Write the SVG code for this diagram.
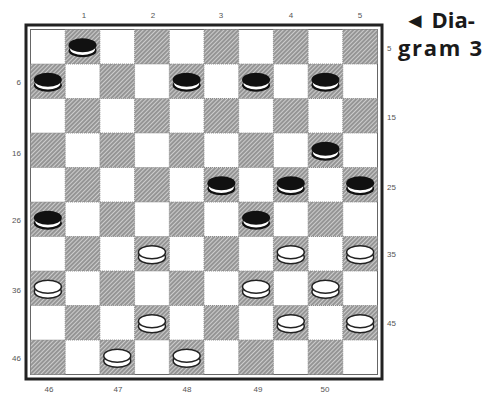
<svg xmlns="http://www.w3.org/2000/svg" xmlns:xlink="http://www.w3.org/1999/xlink" width="489" height="393" viewBox="0 0 489 393">
<style>
.d{fill:url(#hatch);stroke:#8a8a8a;stroke-width:1;stroke-dasharray:1 1}
.lbl{font-family:"Liberation Sans",Arial,sans-serif;font-size:8px;fill:#555}
.cap{font-family:"Open Sans","Liberation Sans",sans-serif;font-weight:bold;font-size:22px;fill:#1a1a1a}
</style>
<defs>
<pattern id="hatch" patternUnits="userSpaceOnUse" width="3" height="3" patternTransform="rotate(45)">
<rect width="3" height="3" fill="#cdcdcd"/>
<line x1="1" y1="0" x2="1" y2="3" stroke="#777" stroke-width="1.3"/>
</pattern>
<g id="bp">
<ellipse cx="0" cy="4" rx="14" ry="6.5" fill="#111"/>
<ellipse cx="0" cy="2.3" rx="12.5" ry="6" fill="#fff"/>
<ellipse cx="0" cy="-1.5" rx="14" ry="7" fill="#111"/>
</g>
<g id="wp">
<ellipse cx="0" cy="3.5" rx="13.5" ry="6.5" fill="#fff" stroke="#222" stroke-width="1.5"/>
<ellipse cx="0" cy="-1.5" rx="13.5" ry="6.5" fill="#fff" stroke="#222" stroke-width="1.5"/>
</g>
</defs>
<rect width="489" height="393" fill="#fff"/>
<g id="board">
<rect x="26" y="25" width="356" height="354" fill="#fff" stroke="#222" stroke-width="3"/>
<rect x="30.5" y="29.5" width="347" height="345" fill="#fff" stroke="#666" stroke-width="1"/>
<g id="darksquares">
<rect class="d" x="65.2" y="29.5" width="34.7" height="34.5"/><rect class="d" x="134.6" y="29.5" width="34.7" height="34.5"/><rect class="d" x="204" y="29.5" width="34.7" height="34.5"/><rect class="d" x="273.4" y="29.5" width="34.7" height="34.5"/><rect class="d" x="342.8" y="29.5" width="34.7" height="34.5"/>
<rect class="d" x="30.5" y="64" width="34.7" height="34.5"/><rect class="d" x="99.9" y="64" width="34.7" height="34.5"/><rect class="d" x="169.3" y="64" width="34.7" height="34.5"/><rect class="d" x="238.7" y="64" width="34.7" height="34.5"/><rect class="d" x="308.1" y="64" width="34.7" height="34.5"/>
<rect class="d" x="65.2" y="98.5" width="34.7" height="34.5"/><rect class="d" x="134.6" y="98.5" width="34.7" height="34.5"/><rect class="d" x="204" y="98.5" width="34.7" height="34.5"/><rect class="d" x="273.4" y="98.5" width="34.7" height="34.5"/><rect class="d" x="342.8" y="98.5" width="34.7" height="34.5"/>
<rect class="d" x="30.5" y="133" width="34.7" height="34.5"/><rect class="d" x="99.9" y="133" width="34.7" height="34.5"/><rect class="d" x="169.3" y="133" width="34.7" height="34.5"/><rect class="d" x="238.7" y="133" width="34.7" height="34.5"/><rect class="d" x="308.1" y="133" width="34.7" height="34.5"/>
<rect class="d" x="65.2" y="167.5" width="34.7" height="34.5"/><rect class="d" x="134.6" y="167.5" width="34.7" height="34.5"/><rect class="d" x="204" y="167.5" width="34.7" height="34.5"/><rect class="d" x="273.4" y="167.5" width="34.7" height="34.5"/><rect class="d" x="342.8" y="167.5" width="34.7" height="34.5"/>
<rect class="d" x="30.5" y="202" width="34.7" height="34.5"/><rect class="d" x="99.9" y="202" width="34.7" height="34.5"/><rect class="d" x="169.3" y="202" width="34.7" height="34.5"/><rect class="d" x="238.7" y="202" width="34.7" height="34.5"/><rect class="d" x="308.1" y="202" width="34.7" height="34.5"/>
<rect class="d" x="65.2" y="236.5" width="34.7" height="34.5"/><rect class="d" x="134.6" y="236.5" width="34.7" height="34.5"/><rect class="d" x="204" y="236.5" width="34.7" height="34.5"/><rect class="d" x="273.4" y="236.5" width="34.7" height="34.5"/><rect class="d" x="342.8" y="236.5" width="34.7" height="34.5"/>
<rect class="d" x="30.5" y="271" width="34.7" height="34.5"/><rect class="d" x="99.9" y="271" width="34.7" height="34.5"/><rect class="d" x="169.3" y="271" width="34.7" height="34.5"/><rect class="d" x="238.7" y="271" width="34.7" height="34.5"/><rect class="d" x="308.1" y="271" width="34.7" height="34.5"/>
<rect class="d" x="65.2" y="305.5" width="34.7" height="34.5"/><rect class="d" x="134.6" y="305.5" width="34.7" height="34.5"/><rect class="d" x="204" y="305.5" width="34.7" height="34.5"/><rect class="d" x="273.4" y="305.5" width="34.7" height="34.5"/><rect class="d" x="342.8" y="305.5" width="34.7" height="34.5"/>
<rect class="d" x="30.5" y="340" width="34.7" height="34.5"/><rect class="d" x="99.9" y="340" width="34.7" height="34.5"/><rect class="d" x="169.3" y="340" width="34.7" height="34.5"/><rect class="d" x="238.7" y="340" width="34.7" height="34.5"/><rect class="d" x="308.1" y="340" width="34.7" height="34.5"/>
</g>
</g>
<g id="black-pieces">
<use id="b1" href="#bp" x="82.55" y="46.75"/>
<use id="b6" href="#bp" x="47.85" y="81.25"/>
<use id="b8" href="#bp" x="186.65" y="81.25"/>
<use id="b9" href="#bp" x="256.05" y="81.25"/>
<use id="b10" href="#bp" x="325.45" y="81.25"/>
<use id="b20" href="#bp" x="325.45" y="150.25"/>
<use id="b23" href="#bp" x="221.35" y="184.75"/>
<use id="b24" href="#bp" x="290.75" y="184.75"/>
<use id="b25" href="#bp" x="360.15" y="184.75"/>
<use id="b26" href="#bp" x="47.85" y="219.25"/>
<use id="b29" href="#bp" x="256.05" y="219.25"/>
</g>
<g id="white-pieces">
<use id="w32" href="#wp" x="151.95" y="253.75"/>
<use id="w34" href="#wp" x="290.75" y="253.75"/>
<use id="w35" href="#wp" x="360.15" y="253.75"/>
<use id="w36" href="#wp" x="47.85" y="288.25"/>
<use id="w39" href="#wp" x="256.05" y="288.25"/>
<use id="w40" href="#wp" x="325.45" y="288.25"/>
<use id="w42" href="#wp" x="151.95" y="322.75"/>
<use id="w44" href="#wp" x="290.75" y="322.75"/>
<use id="w45" href="#wp" x="360.15" y="322.75"/>
<use id="w47" href="#wp" x="117.25" y="357.25"/>
<use id="w48" href="#wp" x="186.65" y="357.25"/>
</g>
<g id="labels" class="lbl">
<text x="84" y="18" text-anchor="middle">1</text>
<text x="153" y="18" text-anchor="middle">2</text>
<text x="221" y="18" text-anchor="middle">3</text>
<text x="291" y="18" text-anchor="middle">4</text>
<text x="360" y="18" text-anchor="middle">5</text>
<text x="21" y="85" text-anchor="end">6</text>
<text x="21" y="156" text-anchor="end">16</text>
<text x="21" y="223" text-anchor="end">26</text>
<text x="21" y="293" text-anchor="end">36</text>
<text x="21" y="361" text-anchor="end">46</text>
<text x="387" y="51">5</text>
<text x="387" y="120">15</text>
<text x="387" y="190">25</text>
<text x="387" y="257">35</text>
<text x="387" y="326">45</text>
<text x="49" y="392" text-anchor="middle">46</text>
<text x="118" y="392" text-anchor="middle">47</text>
<text x="187" y="392" text-anchor="middle">48</text>
<text x="258" y="392" text-anchor="middle">49</text>
<text x="325" y="392" text-anchor="middle">50</text>
</g>
<g id="caption" class="cap">
<text x="404" y="28">◄ Dia-</text>
<text x="398" y="56" textLength="84">gram 3</text>
</g>
</svg>
